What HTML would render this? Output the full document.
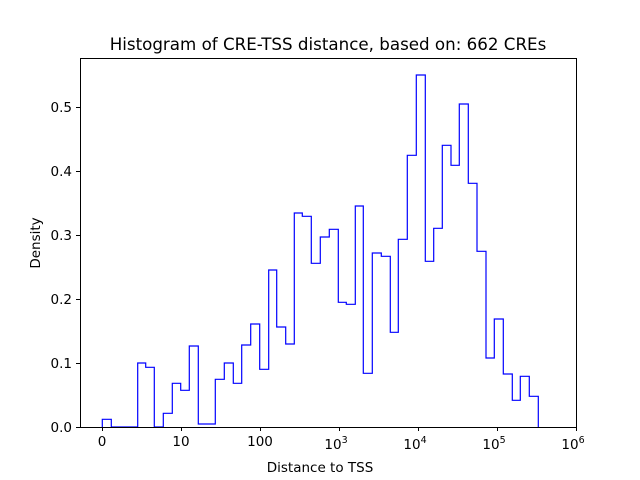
<!DOCTYPE html>
<html><head><style>body{margin:0;background:#fff}svg{display:block}text{font-family:"DejaVu Sans","Liberation Sans",sans-serif;fill:#000}</style></head><body>
<svg width="640" height="480" viewBox="0 0 640 480">
<rect x="0" y="0" width="640" height="480" fill="#fff"/>
<path fill="none" stroke="#0000ff" stroke-width="1.2" d="M102.3,427 V419.3 H111.3 V427 H137.7 V363 H145.7 V367.3 H154.3 V427 H163.3 V413.3 H172.3 V383.3 H180.7 V390.3 H189.3 V346 H198.3 V424 H215.3 V379.3 H224.3 V363 H233.3 V383.3 H241.7 V345 H250.7 V324 H259.7 V369.3 H268.7 V270 H276.7 V327 H285.7 V344 H294.3 V213 H302.3 V216.3 H311.3 V263.3 H320.3 V237 H329.3 V229.3 H338.3 V302.3 H346.3 V304.3 H355.3 V206 H363.3 V373.3 H372.3 V253 H381.3 V256.3 H390.3 V332.3 H398.3 V239.3 H407.3 V155.3 H416.3 V75 H425.3 V261.3 H433.7 V228.3 H442.3 V145.3 H451 V165.3 H459.3 V104 H468.3 V183.3 H477 V251.3 H486 V358 H494.3 V319 H503.3 V374 H512.3 V400.3 H520.3 V376.3 H529.3 V396.3 H538.3 V427"/>
<rect x="80.5" y="58.5" width="496" height="369" fill="none" stroke="#000" stroke-width="1"/>
<g stroke="#000" stroke-width="1">
<line x1="102.5" y1="427" x2="102.5" y2="431"/><line x1="181.5" y1="427" x2="181.5" y2="431"/><line x1="260.5" y1="427" x2="260.5" y2="431"/><line x1="339.5" y1="427" x2="339.5" y2="431"/><line x1="418.5" y1="427" x2="418.5" y2="431"/><line x1="497.5" y1="427" x2="497.5" y2="431"/><line x1="576.5" y1="427" x2="576.5" y2="431"/>
<line x1="76" y1="427.5" x2="80" y2="427.5"/><line x1="76" y1="363.5" x2="80" y2="363.5"/><line x1="76" y1="299.5" x2="80" y2="299.5"/><line x1="76" y1="235.5" x2="80" y2="235.5"/><line x1="76" y1="171.5" x2="80" y2="171.5"/><line x1="76" y1="107.5" x2="80" y2="107.5"/>
</g>
<g font-size="13.5" text-anchor="middle">
<text x="102" y="446">0</text><text x="181" y="446">10</text><text x="260" y="446">100</text>
<text x="336" y="449">10<tspan font-size="9.5" dy="-6">3</tspan></text>
<text x="415" y="449">10<tspan font-size="9.5" dy="-6">4</tspan></text>
<text x="494" y="449">10<tspan font-size="9.5" dy="-6">5</tspan></text>
<text x="573" y="449">10<tspan font-size="9.5" dy="-6">6</tspan></text>
<text x="320" y="472">Distance to TSS</text>
</g>
<g font-size="13.5" text-anchor="end">
<text x="72" y="432">0.0</text><text x="72" y="368">0.1</text><text x="72" y="304">0.2</text><text x="72" y="240">0.3</text><text x="72" y="176">0.4</text><text x="72" y="112">0.5</text>
</g>
<text x="40" y="243" font-size="13.5" text-anchor="middle" transform="rotate(-90 40 243)">Density</text>
<text x="328" y="50" font-size="16.7" text-anchor="middle">Histogram of CRE-TSS distance, based on: 662 CREs</text>
</svg>
</body></html>
